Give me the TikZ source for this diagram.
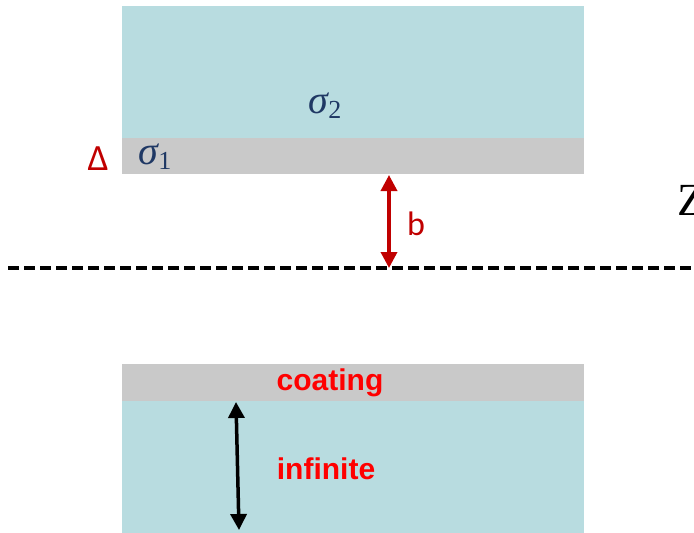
\documentclass[tikz,border=0pt]{standalone}
\usepackage{fontspec}
\setmainfont{Carlito}
\newfontfamily\arialfont{Liberation Sans}
\newfontfamily\timesfont{Liberation Serif}
\usetikzlibrary{arrows.meta}
\definecolor{slab}{HTML}{B8DCE0}
\definecolor{coat}{HTML}{C9C9C9}
\definecolor{darkred}{HTML}{C00000}
\definecolor{brightred}{HTML}{FF0000}
\definecolor{sigblue}{HTML}{1F3864}
\newcommand{\sigmasub}[1]{{\timesfont\itshape\fontsize{40}{40}\selectfont σ}\raisebox{-5pt}{\timesfont\fontsize{26}{26}\selectfont #1}}
\tikzset{
  lbl/.style={inner sep=0pt, anchor=center},
  redlbl/.style={lbl, text=brightred, font=\arialfont\bfseries\fontsize{30}{30}\selectfont},
  sig/.style={lbl, text=sigblue},
  dimarrow/.style={line width=3.5pt, {Triangle[length=16pt,width=16pt]}-{Triangle[length=16pt,width=16pt]}}
}
\begin{document}
\begin{tikzpicture}[x=1pt,y=-1pt]
\useasboundingbox (0,0) rectangle (694,533);
\clip (0,0) rectangle (694,533);
% top body
\fill[slab] (122,6) rectangle (584,138);
\fill[coat] (122,138) rectangle (584,174);
% bottom body
\fill[coat] (122,364) rectangle (584,401);
\fill[slab] (122,401) rectangle (584,533);
% dashed axis
\coordinate (axL) at (8,268);
\coordinate (axR) at (694,268);
\draw[line width=3.5pt, dash pattern=on 11pt off 5pt] (axL) -- (axR);
% b arrow
\coordinate (bTop) at (389,175);
\coordinate (bBot) at (389,268);
\draw[dimarrow, darkred] (bTop) -- (bBot);
\node[lbl, text=darkred, font=\fontsize{34}{34}\selectfont] (b) at (416,224) {b};
% labels
\node[lbl, text=darkred, font=\fontsize{37}{37}\selectfont] (delta) at (98,159) {Δ};
\node[sig] (s1) at (155,157) {\sigmasub{1}};
\node[sig] (s2) at (325,106) {\sigmasub{2}};
\node[lbl, anchor=west, font=\timesfont\fontsize{46}{46}\selectfont] (Z) at (677,200) {Z};
% bottom labels
\node[redlbl] (coating) at (330,383) {coating};
\node[redlbl] (inf) at (326,469) {infinite};
\coordinate (iTop) at (236,402);
\coordinate (iBot) at (239,530);
\draw[dimarrow, black] (iTop) -- (iBot);
\end{tikzpicture}
\end{document}
